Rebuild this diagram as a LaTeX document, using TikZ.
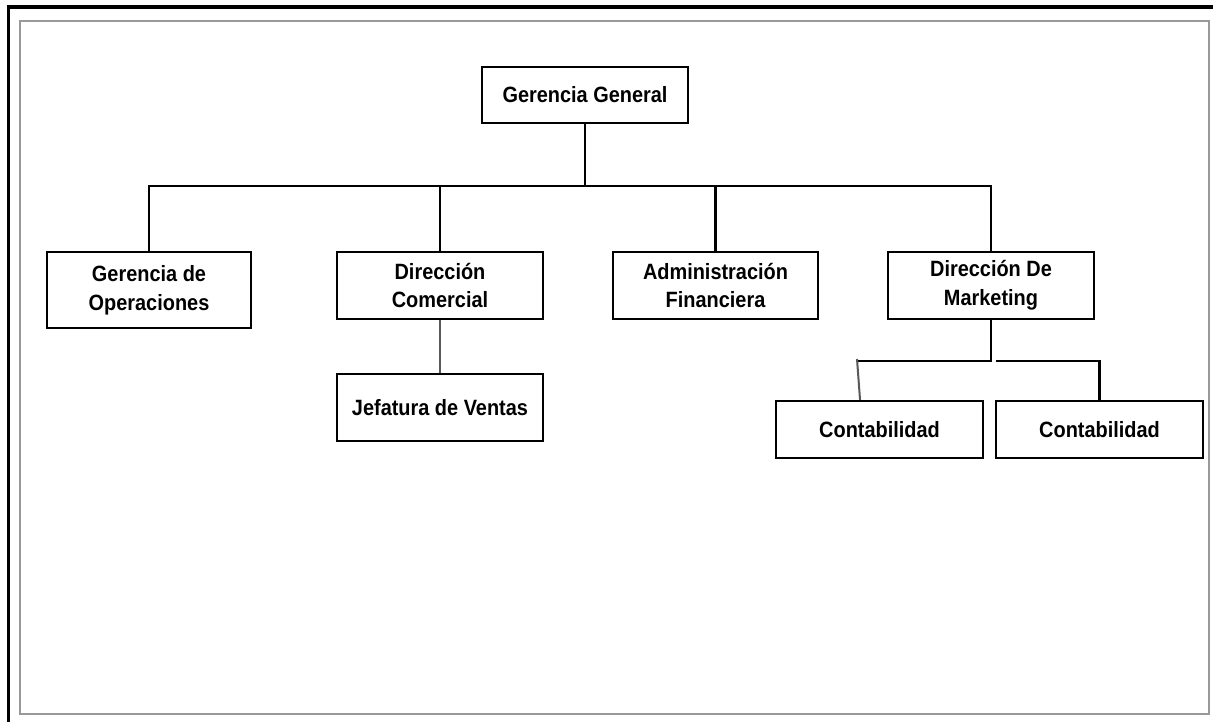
\documentclass[tikz,border=0pt]{standalone}
\usepackage{fontspec}
\newfontfamily\orgfont[FakeStretch=0.9]{Liberation Sans}
\begin{document}
\begin{tikzpicture}[x=0.75pt,y=-0.75pt,
  unit/.style 2 args={draw=black,line width=1.8pt,fill=white,inner sep=0pt,align=center,
    minimum width=#1*0.75pt,minimum height=#2*0.75pt,
    font=\orgfont\bfseries\fontsize{16.6}{21.5}\selectfont},
  conn/.style={draw=black,line width=1.6pt},
  soft/.style={draw=black!65,line width=1.5pt}]
\useasboundingbox (0,0) rectangle (1213,722);
\fill[white] (0,0) rectangle (1213,722);
% page frame
\draw[line width=2.4pt] (8.5,722) -- (8.5,7) -- (1213,7);
\draw[black!40,line width=1.4pt] (20,21) rectangle (1209,714);

% units
\node[unit={206}{56}] (gg) at (585,95) {Gerencia General};
\node[unit={204}{76}] (go) at (149,290) {Gerencia de\\Operaciones};
\node[unit={206}{67}] (dc) at (440,285.5) {Dirección\\Comercial};
\node[unit={205}{67}] (af) at (715.5,285.5) {Administración\\Financiera};
\node[unit={206}{67}] (dm) at (991,285.5) {Dirección De\\Marketing};
\node[unit={206}{67}] (jv) at (440,407.5) {Jefatura de Ventas};
\node[unit={207}{57}] (c1) at (879.5,429.5) {Contabilidad};
\node[unit={207}{57}] (c2) at (1099.5,429.5) {Contabilidad};

% junction points
\coordinate (bar) at (585,186);
\coordinate (mk) at (992,361);

% connectors
\draw[conn] (gg.south) -- (gg.south |- bar);
\draw[conn] (go.north) |- (dm.north |- bar) -- (dm.north);
\draw[conn] (dc.north) -- (dc.north |- bar);
\draw[conn] (af.north) -- (af.north |- bar);
\draw[soft] (dc.south) -- (jv.north);
\draw[conn] (dm.south) -- (dm.south |- mk) -- (857,361);
\draw[soft] (857,359) -- ([xshift=-14.6pt]c1.north);
\draw[conn] ([xshift=3pt]mk) -| (c2.north);
\end{tikzpicture}
\end{document}
